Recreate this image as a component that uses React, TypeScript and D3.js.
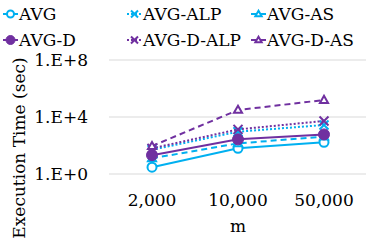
import React from 'react';
import * as d3 from 'd3';

// categories on the x axis
const categories = ['2,000', '10,000', '50,000'];
const yTicks = [1, 1e4, 1e8];
const yTickLabels = ['1.E+0', '1.E+4', '1.E+8'];

// execution times (sec)
const avg = [3, 63, 166];
const avgAlp = [50, 930, 2750];
const avgAs = [12.6, 141, 417];
const avgD = [21, 270, 600];
const avgDAlp = [63, 1350, 5250];
const avgDAs = [91, 31000, 155000];

const CYAN = '#00B0F0';
const PURPLE = '#7030A0';
const FONT = 'DejaVu Serif';

type Series = { name: string; values: number[]; color: string; dash: string; marker: string };

const series: Series[] = [
  { name: 'AVG', values: avg, color: CYAN, dash: '', marker: 'circle' },
  { name: 'AVG-ALP', values: avgAlp, color: CYAN, dash: '2,2', marker: 'x' },
  { name: 'AVG-AS', values: avgAs, color: CYAN, dash: '6,4', marker: 'triangle' },
  { name: 'AVG-D', values: avgD, color: PURPLE, dash: '', marker: 'dot' },
  { name: 'AVG-D-ALP', values: avgDAlp, color: PURPLE, dash: '2,2', marker: 'x' },
  { name: 'AVG-D-AS', values: avgDAs, color: PURPLE, dash: '6,4', marker: 'triangle' },
];

const Marker = ({ type, x, y, color, size }: { type: string; x: number; y: number; color: string; size: number }) => {
  if (type === 'circle')
    return <circle cx={x} cy={y} r={size} fill="white" stroke={color} strokeWidth={2} />;
  if (type === 'dot') return <circle cx={x} cy={y} r={size + 1} fill={color} stroke={color} strokeWidth={1} />;
  if (type === 'x')
    return (
      <path
        d={`M${x - size},${y - size}L${x + size},${y + size}M${x - size},${y + size}L${x + size},${y - size}`}
        stroke={color}
        strokeWidth={2}
      />
    );
  // triangle, about 2*size wide
  const tri = d3.symbol(d3.symbolTriangle, 0.433 * (size * 1.8) * (size * 1.8))();
  return <path d={tri || ''} transform={`translate(${x},${y + 0.5})`} fill="white" stroke={color} strokeWidth={2} />;
};

const App = () => {
  const width = 366;
  const height = 244;

  const x = d3.scaleBand().domain(categories).range([109, 367]);
  const y = d3.scaleLog().domain([1, 1e8]).range([174, 60]);
  const cx = (c: string) => (x(c) as number) + x.bandwidth() / 2;

  const line = d3
    .line<number>()
    .x((_, i) => cx(categories[i]))
    .y((d) => y(d));

  const legendCols = [3, 127, 251];
  const legendRows = [14, 40];

  return (
    <svg width={width} height={height} style={{ position: 'absolute', left: 0, top: 0 }} fontFamily={FONT}>
      <rect width={width} height={height} fill="white" />
      {yTicks.map((t, i) => (
        <g key={t}>
          <line x1={109} x2={366} y1={y(t)} y2={y(t)} stroke="#d9d9d9" strokeWidth={1} />
          <text x={88} y={y(t)} dy="0.35em" textAnchor="end" fontSize={17} fill="#000">
            {yTickLabels[i]}
          </text>
        </g>
      ))}
      {categories.map((c) => (
        <text key={c} x={cx(c)} y={206} textAnchor="middle" fontSize={17} fill="#000">
          {c}
        </text>
      ))}
      <text x={238} y={232} textAnchor="middle" fontSize={17} fill="#000">
        m
      </text>
      <text transform="translate(25,148) rotate(-90)" textAnchor="middle" fontSize={17} fill="#000">
        Execution Time (sec)
      </text>
      {series.map((s) => (
        <g key={s.name}>
          <path d={line(s.values) || ''} fill="none" stroke={s.color} strokeWidth={2} strokeDasharray={s.dash} />
          {s.values.map((v, i) => (
            <Marker key={i} type={s.marker} x={cx(categories[i])} y={y(v)} color={s.color} size={4.5} />
          ))}
        </g>
      ))}
      {series.map((s, i) => {
        const lx = legendCols[i % 3];
        const ly = legendRows[Math.floor(i / 3)];
        return (
          <g key={'lg' + s.name}>
            <line x1={lx} x2={lx + 15} y1={ly} y2={ly} stroke={s.color} strokeWidth={2} strokeDasharray={s.dash} />
            <Marker type={s.marker} x={lx + 7.5} y={ly} color={s.color} size={3.5} />
            <text x={lx + 16} y={ly} dy="0.35em" fontSize={17} fill="#000">
              {s.name}
            </text>
          </g>
        );
      })}
    </svg>
  );
};

export default App;
